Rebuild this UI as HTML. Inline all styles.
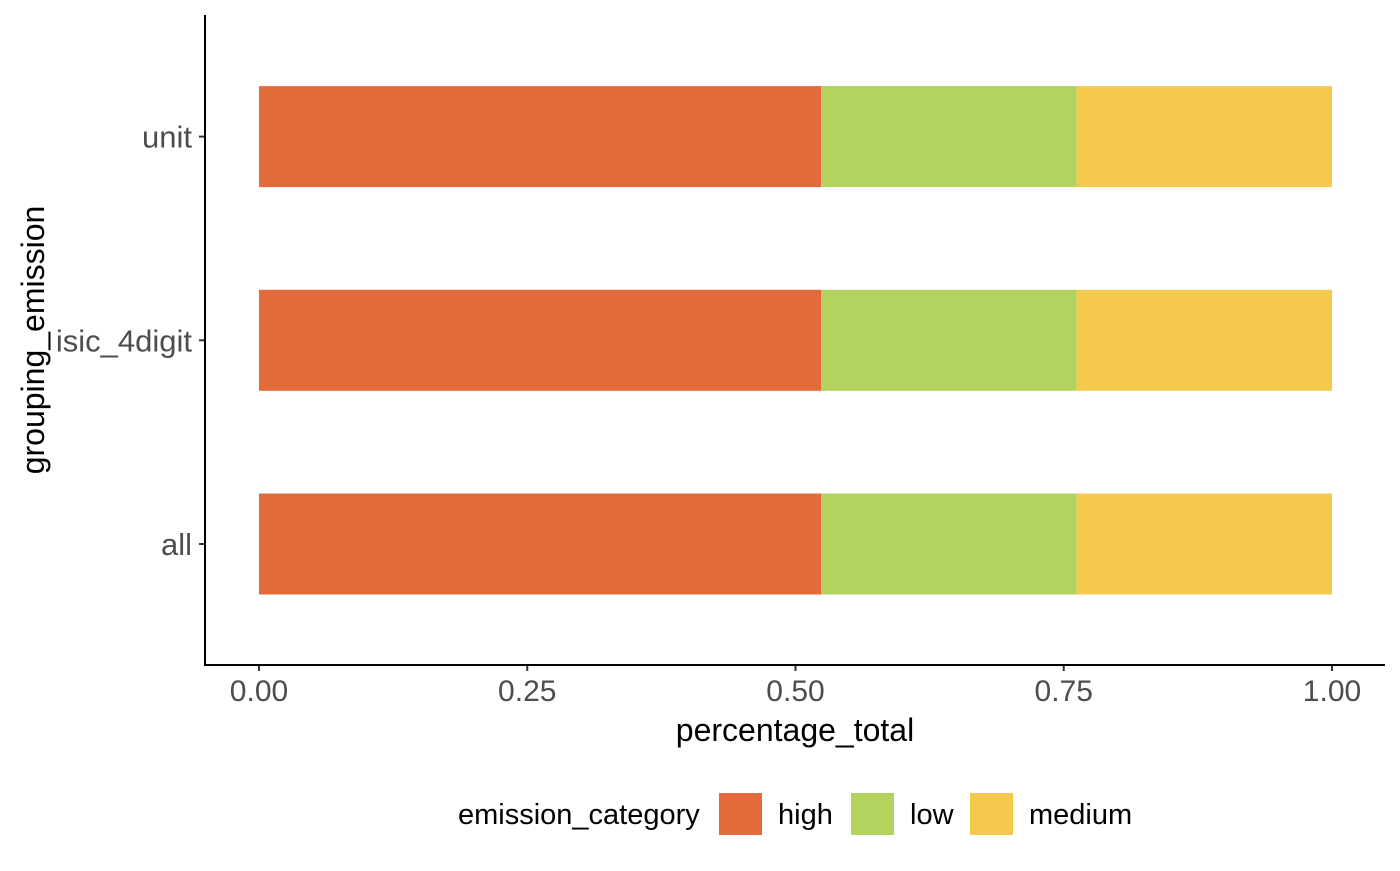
<!DOCTYPE html>
<html><head><meta charset="utf-8"><style>
body{margin:0;background:#fff;}
svg text{font-family:"Liberation Sans",Arial,sans-serif;}
</style></head><body>
<svg id="chart" width="1400" height="866">
<g id="plot"></g>
</svg>
<script>
const categories = ["all", "isic_4digit", "unit"];
const seriesNames = ["high", "low", "medium"];
const highValues = [0.524, 0.524, 0.524];
const lowValues = [0.238, 0.238, 0.238];
const mediumValues = [0.238, 0.238, 0.238];
const xTicks = [0, 0.25, 0.5, 0.75, 1];
const xTickLabels = ["0.00", "0.25", "0.50", "0.75", "1.00"];
const colors = {high:"#E36A3A", low:"#B3D35E", medium:"#F5C94E"};

const NS = "http://www.w3.org/2000/svg";
const g = document.getElementById("plot");
function mk(tag, attrs, text){
  const e = document.createElementNS(NS, tag);
  for (const k in attrs) e.setAttribute(k, attrs[k]);
  if (text !== undefined) e.textContent = text;
  g.appendChild(e); return e;
}
const x = v => 259 + v * 1073;
const yc = i => 544 - i * 203.7;
const bh = 101;

const seriesVals = [highValues, lowValues, mediumValues];
categories.forEach((c, i) => {
  let acc = 0;
  seriesNames.forEach((s, j) => {
    const v = seriesVals[j][i];
    const r = mk("rect", {x: x(acc), y: yc(i) - bh/2, width: x(acc+v) - x(acc), height: bh, fill: colors[s]});
    
    
    acc += v;
  });
  const t = mk("line", {x1:199, x2:205, y1:yc(i), y2:yc(i), stroke:"#333", "stroke-width":2});
  
  
  const l = mk("text", {x:192, y:yc(i)+11, "text-anchor":"end", "font-size":31, fill:"#4d4d4d"}, c);
  
  
});
xTicks.forEach((v, i) => {
  const t = mk("line", {x1:x(v), x2:x(v), y1:665, y2:671, stroke:"#333", "stroke-width":2});
  
  
  const l = mk("text", {x:x(v), y:701, "text-anchor":"middle", "font-size":30, fill:"#4d4d4d"}, xTickLabels[i]);
  
  
});
const ya = mk("line", {x1:205, x2:205, y1:15, y2:666, stroke:"#000", "stroke-width":2});


const xa = mk("line", {x1:204, x2:1385, y1:665, y2:665, stroke:"#000", "stroke-width":2});


const xt = mk("text", {x:795, y:741, "text-anchor":"middle", "font-size":32, fill:"#000"}, "percentage_total");


const yt = mk("text", {x:0, y:0, "text-anchor":"middle", "font-size":32, fill:"#000", transform:"translate(44,340) rotate(-90)"}, "grouping_emission");


const lt = mk("text", {x:458, y:824, "font-size":29, fill:"#000"}, "emission_category");


const keyX = [719, 851, 970];
seriesNames.forEach((s, j) => {
  const r = mk("rect", {x:keyX[j], y:793, width:43, height:42, fill:colors[s]});
  
  
  const t = mk("text", {x:keyX[j]+59, y:824, "font-size":29, fill:"#000"}, s);
  
  
});
</script>
</body></html>
